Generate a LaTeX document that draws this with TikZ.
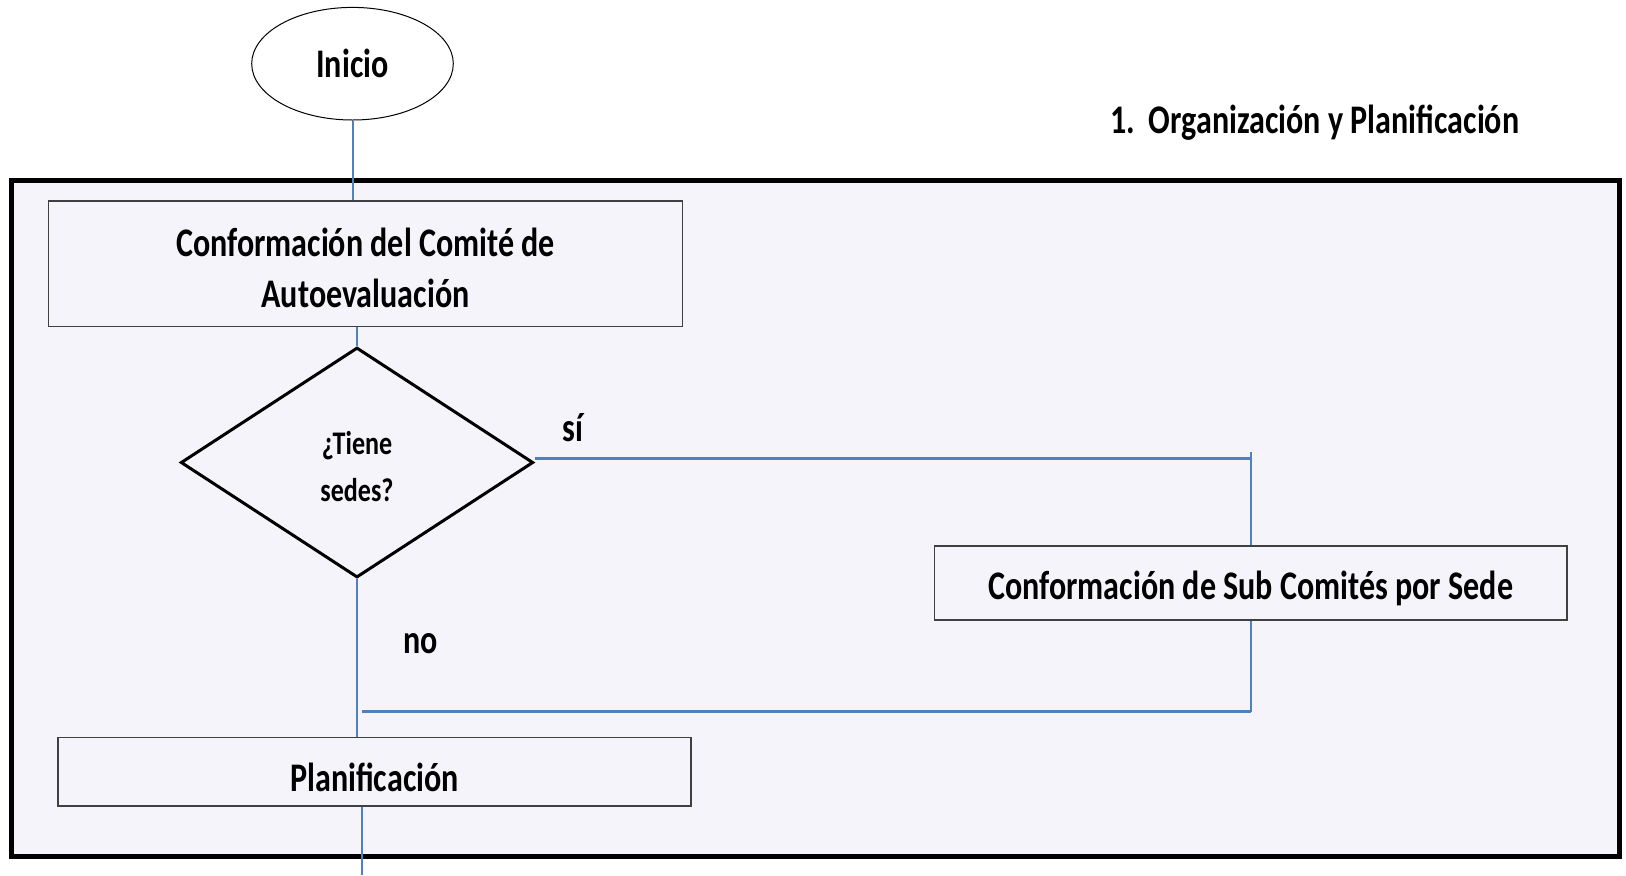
\documentclass[tikz,border=0pt]{standalone}
\usepackage{fontspec}
\setmainfont{Carlito}[FakeStretch=0.79]
\usetikzlibrary{shapes.geometric}
\definecolor{bgfill}{RGB}{245,244,250}
\definecolor{lineblue}{RGB}{79,129,189}
\begin{document}
\begin{tikzpicture}[x=0.5pt,y=-0.5pt,
  mainfont/.style={font=\fontsize{20.3}{25.5}\selectfont\bfseries},
  procbox/.style={draw=black!75, line width=0.6pt, inner sep=0pt, align=center, mainfont},
  flow/.style={draw=lineblue},
  hflow/.style={flow, line width=1.5pt},
  vflow/.style={flow, line width=1pt}]
\useasboundingbox (0,0) rectangle (1626,875);
\fill[white] (0,0) rectangle (1626,875);
\draw[line width=2.5pt, fill=bgfill] (11,180.5) rectangle (1619.5,856);

\node[ellipse, draw, line width=0.5pt, fill=white, minimum width=100.8pt, minimum height=56.3pt, inner sep=0pt, mainfont] (ini) at (352.5,63.7) {Inicio};
\node[anchor=base west, mainfont] (title) at (1103,133.5) {1.\hspace{7pt}Organización y Planificación};

\node[procbox, minimum width=316.85pt, minimum height=62.85pt, text height=43.4pt, text depth=0pt] (b1) at (365.5,263.9) {Conformación del Comité de\\Autoevaluación};
\node[diamond, draw, line width=1.5pt, minimum width=176.25pt, minimum height=115pt, inner sep=0pt, align=center, text height=39.3pt, text depth=0pt, font=\fontsize{16.5}{23.5}\selectfont\bfseries] (d) at (357,462.5) {¿Tiene\\sedes?};
\node[procbox, minimum width=316.35pt, minimum height=37pt, text height=16.7pt, text depth=0pt] (b2) at (1250.7,583) {Conformación de Sub Comités por Sede};
\node[procbox, minimum width=316.5pt, minimum height=34.15pt, text height=20pt, text depth=0pt] (plan) at (374.5,771.9) {Planificación};
\node[anchor=base, mainfont] (si) at (573,441.7) {sí};
\node[anchor=base, mainfont] (no) at (420.5,653) {no};

\coordinate (yt) at (1250.7,452);
\coordinate (j) at (1250.7,711.5);
\coordinate (je) at (362,711.5);
\coordinate (endp) at (361.5,875);

\draw[vflow] (ini.south) -- (ini.south |- b1.north);
\draw[vflow] (b1.south -| d.north) -- (d.north);
\draw[hflow] ([yshift=2pt]d.east) -- ([yshift=2pt]d.east -| yt);
\draw[vflow] (yt) -- (b2.north);
\draw[vflow] (b2.south) -- (j);
\draw[hflow] (j) -- (je);
\draw[vflow] (d.south) -- (d.south |- plan.north);
\draw[vflow] (plan.south -| endp) -- (endp);
\end{tikzpicture}
\end{document}
